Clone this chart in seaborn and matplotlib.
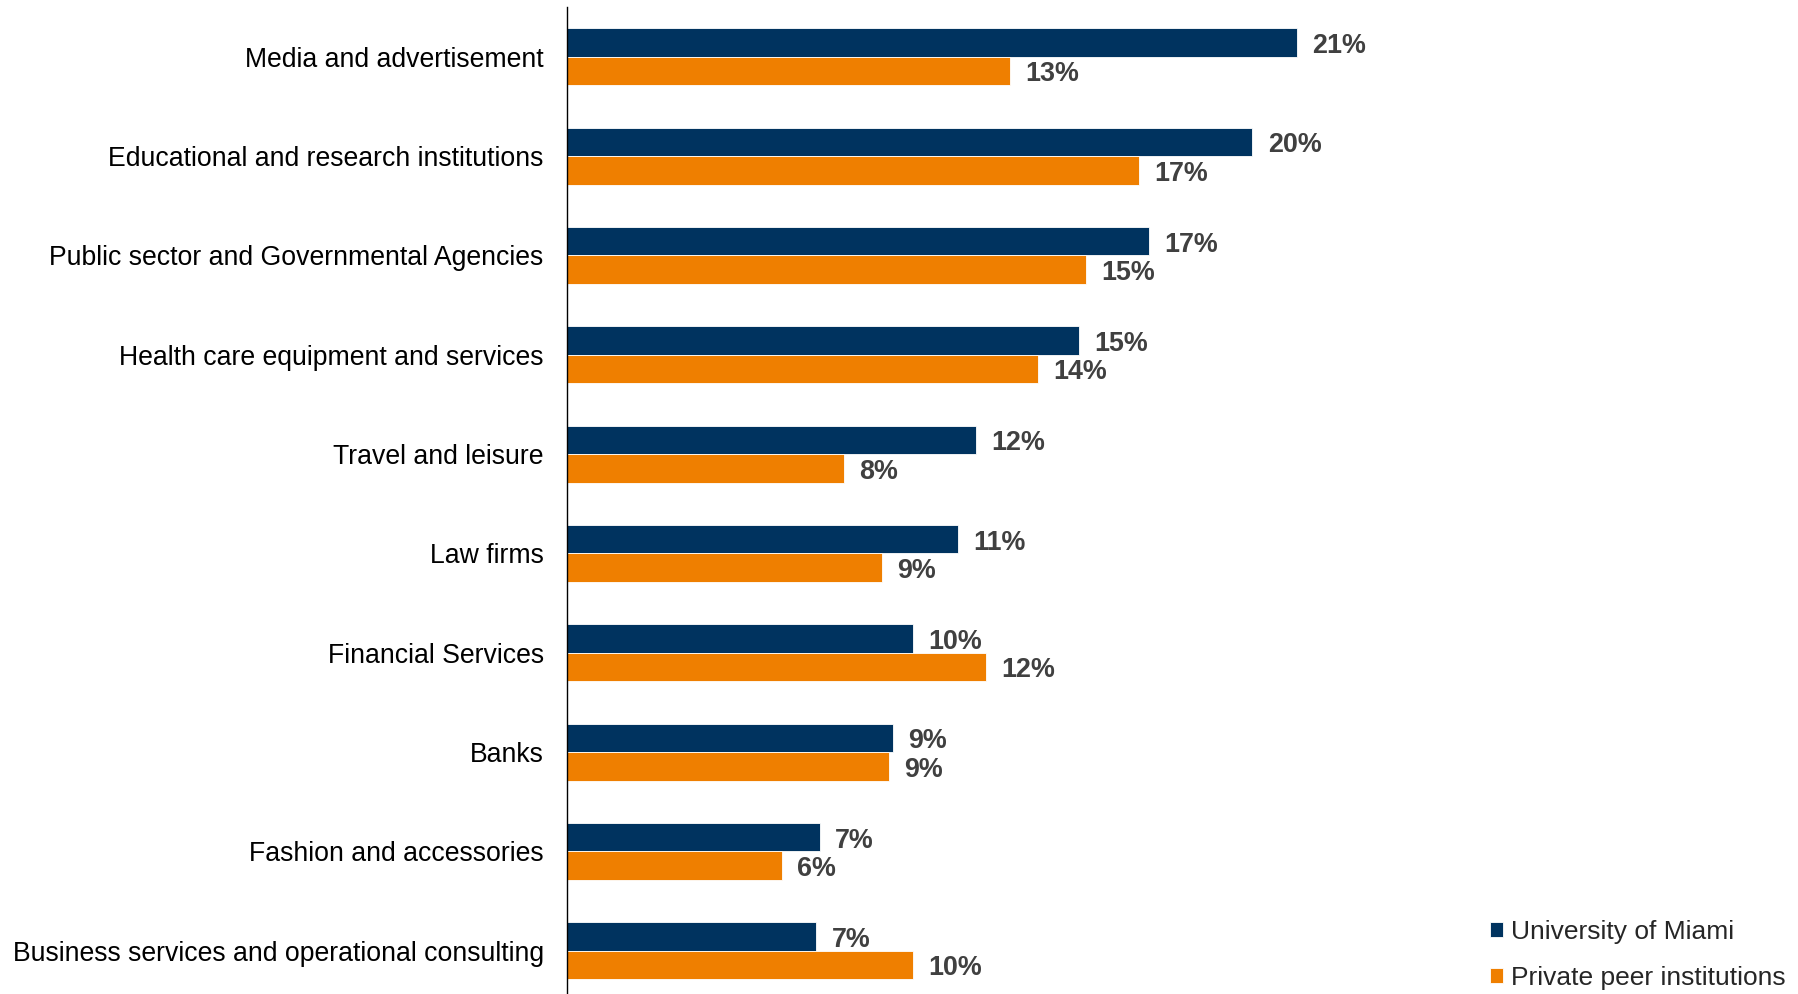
import matplotlib
matplotlib.use("Agg")
import matplotlib.pyplot as plt
import seaborn as sns
import pandas as pd

# Share of graduates employed by industry (%)
industries = [
    "Media and advertisement",
    "Educational and research institutions",
    "Public sector and Governmental Agencies",
    "Health care equipment and services",
    "Travel and leisure",
    "Law firms",
    "Financial Services",
    "Banks",
    "Fashion and accessories",
    "Business services and operational consulting",
]
miami = [21.1, 19.8, 16.8, 14.8, 11.8, 11.3, 10.0, 9.4, 7.3, 7.2]
peers = [12.8, 16.52, 15.0, 13.6, 8.0, 9.1, 12.1, 9.3, 6.2, 10.0]
series = ["University of Miami", "Private peer institutions"]
colors = ["#00335F", "#EF7F00"]

df = pd.DataFrame({
    "industry": industries * 2,
    "share": miami + peers,
    "group": [series[0]] * len(industries) + [series[1]] * len(industries),
})

sns.set_theme(style="white")
plt.rcParams["font.family"] = ["Liberation Sans", "DejaVu Sans"]

fig = plt.figure(figsize=(17.98, 9.94), dpi=100)
ax = fig.add_axes([0.3155, -0.0064, 0.4811, 0.9993])

sns.barplot(
    data=df, y="industry", x="share", hue="group", order=industries,
    hue_order=series, palette=colors, saturation=1, orient="h",
    width=0.574, gap=0, edgecolor="white", linewidth=0.6, ax=ax, legend=True,
)

ax.set_xlim(0, 25)
ax.set_ylim(len(industries) - 0.5, -0.5)
ax.set_xlabel("")
ax.set_ylabel("")
ax.set_xticks([])
ax.tick_params(axis="y", length=0, pad=17, labelsize=19.2, labelcolor="#000000")
for side in ["top", "right", "bottom"]:
    ax.spines[side].set_visible(False)
ax.spines["left"].set_color("#000000")
ax.spines["left"].set_linewidth(1.0)

for container in ax.containers:
    texts = ax.bar_label(
        container, labels=[f"{v:.0f}%" for v in container.datavalues],
        padding=11, fontsize=19.4, fontweight="bold", color="#404040",
    )
    for t in texts:
        t.xyann = (11, -2.5)

handles, labels = ax.get_legend_handles_labels()
ax.legend_.remove()
fig.legend(
    handles, labels, loc="upper left", bbox_to_anchor=(0.8287, 0.0745),
    bbox_transform=fig.transFigure, frameon=False, fontsize=19,
    borderpad=0, borderaxespad=0, handlelength=0.5, handleheight=0.5,
    handletextpad=0.3, labelspacing=0.82,
)

fig.savefig("out.png", dpi=100)
